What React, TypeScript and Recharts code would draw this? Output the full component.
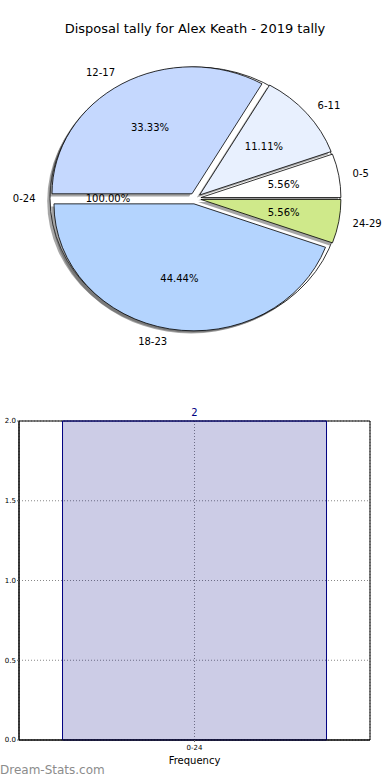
import React from "react";
import {
  PieChart,
  Pie,
  BarChart,
  Bar,
  XAxis,
  YAxis,
  CartesianGrid,
  LabelList,
  ReferenceArea,
} from "recharts";

// pie: disposals per band
const sliceNames = ["0-5", "6-11", "12-17", "18-23", "24-29"];
const sliceCounts = [1, 2, 6, 8, 1];
const totalNames = ["0-24"];
const totalCounts = [18];

// bar: frequency
const barCategories = ["0-24"];
const barValues = [2];
const yTicks = [0, 0.5, 1, 1.5, 2];

const SLICE_COLORS = ["#ffffff", "#e8f0fe", "#c5d8fe", "#b4d4fe", "#cfe98a"];

const sliceData = sliceNames.map((name, i) => ({ name, value: sliceCounts[i], fill: SLICE_COLORS[i] }));
const totalData = totalNames.map((name, i) => ({ name, value: totalCounts[i], fill: "#ffffff" }));
const barData = barCategories.map((name, i) => ({ name, value: barValues[i] }));

const FONT = "'DejaVu Sans', Verdana, sans-serif";
const SQUASH = 0.907; // pie is drawn a bit flattened
const RAD = Math.PI / 180;
const EXPLODE = 6;
const SHADOW: [number, number] = [-2.8, 2.6];
// chart offset is 5px (default margin)
const PIE_CX = 190;
const PIE_CY = 193.5;

function wedgePath(cx: number, cy: number, rx: number, ry: number, a0: number, a1: number) {
  const x0 = cx + rx * Math.cos(a0 * RAD);
  const y0 = cy - ry * Math.sin(a0 * RAD);
  const x1 = cx + rx * Math.cos(a1 * RAD);
  const y1 = cy - ry * Math.sin(a1 * RAD);
  const large = Math.abs(a1 - a0) > 180 ? 1 : 0;
  return `M${cx},${cy}L${x0},${y0}A${rx},${ry} 0 ${large} 0 ${x1},${y1}Z`;
}

const makeWedge = (explode: number, shadow: boolean, visible = true) => (props: any) => {
  const { cx, cy, startAngle, endAngle, outerRadius, fill } = props;
  if (!visible) return <g />;
  const mid = ((startAngle + endAngle) / 2) * RAD;
  let ox = cx + explode * Math.cos(mid);
  let oy = cy - explode * SQUASH * Math.sin(mid);
  if (shadow) {
    ox += SHADOW[0];
    oy += SHADOW[1];
  }
  const rx = outerRadius;
  const ry = outerRadius * SQUASH;
  const style = shadow
    ? { fill: "#4d4d4d", fillOpacity: 0.5, stroke: "none" }
    : { fill, stroke: "#000", strokeWidth: 0.8 };
  if (Math.abs(endAngle - startAngle) >= 359.9) {
    return <ellipse cx={ox} cy={oy} rx={rx} ry={ry} {...style} />;
  }
  return <path d={wedgePath(ox, oy, rx, ry, startAngle, endAngle)} {...style} />;
};

const makeLabel = (explode: number) => (p: any) => {
  const mid = p.midAngle * RAD;
  const ex = p.cx + explode * Math.cos(mid);
  const ey = p.cy - explode * SQUASH * Math.sin(mid);
  const rx = p.outerRadius;
  const ry = p.outerRadius * SQUASH;
  const lx = ex + 1.1 * rx * Math.cos(mid);
  const ly = ey - 1.1 * ry * Math.sin(mid);
  const px = ex + 0.6 * rx * Math.cos(mid);
  const py = ey - 0.6 * ry * Math.sin(mid);
  return (
    <g key={`lbl-${p.name}`}>
      <text x={lx} y={ly} textAnchor={Math.cos(mid) >= 0 ? "start" : "end"} dominantBaseline="central"
        fontSize={10} fontFamily={FONT} fill="#000">
        {p.name}
      </text>
      <text x={px} y={py} textAnchor="middle" dominantBaseline="central" fontSize={10} fontFamily={FONT} fill="#000">
        {(p.percent * 100).toFixed(2)}%
      </text>
    </g>
  );
};

const App = () => {
  return (
    <div style={{ position: "absolute", left: 0, top: 0, width: 390, height: 780, background: "#fff", fontFamily: FONT }}>
      <div style={{ position: "absolute", top: 21, left: 0, width: 390, textAlign: "center", fontSize: 13, color: "#000" }}>
        Disposal tally for Alex Keath - 2019 tally
      </div>
      <div style={{ position: "absolute", top: 0, left: 0 }}>
        <PieChart width={390} height={390}>
          <Pie data={totalData} dataKey="value" nameKey="name" cx={PIE_CX} cy={PIE_CY} outerRadius={145}
            startAngle={0} endAngle={360} isAnimationActive={false} shape={makeWedge(0, true)} label={false} />
          <Pie data={totalData} dataKey="value" nameKey="name" cx={PIE_CX} cy={PIE_CY} outerRadius={145}
            startAngle={0} endAngle={360} isAnimationActive={false} shape={makeWedge(0, false)} label={false} />
          <Pie data={sliceData} dataKey="value" nameKey="name" cx={PIE_CX} cy={PIE_CY} outerRadius={140}
            startAngle={0} endAngle={360} isAnimationActive={false} shape={makeWedge(EXPLODE, true)} label={false} />
          <Pie data={sliceData} dataKey="value" nameKey="name" cx={PIE_CX} cy={PIE_CY} outerRadius={140}
            startAngle={0} endAngle={360} isAnimationActive={false} shape={makeWedge(EXPLODE, false)}
            label={makeLabel(EXPLODE)} labelLine={false} />
          <Pie data={totalData} dataKey="value" nameKey="name" cx={PIE_CX} cy={PIE_CY} outerRadius={145}
            startAngle={0} endAngle={360} isAnimationActive={false} shape={makeWedge(0, false, false)}
            fill="none" stroke="none" label={makeLabel(0)} labelLine={false} />
        </PieChart>
      </div>
      <div style={{ position: "absolute", top: 390, left: 0 }}>
        <BarChart width={390} height={390} data={barData} margin={{ top: 31, right: 20, bottom: 16, left: 0 }}
          barCategoryGap="12.4%">
          <CartesianGrid stroke="#888" strokeDasharray="1 2" />
          <XAxis dataKey="name" height={24} tickSize={2} tickMargin={3} axisLine={{ stroke: "#000" }}
            tick={{ fontSize: 7, fill: "#000", fontFamily: FONT }}
            label={{ value: "Frequency", position: "insideBottom", offset: 0, fontSize: 10, fill: "#000", fontFamily: FONT }} />
          <YAxis domain={[0, 2]} ticks={yTicks} width={19} tickSize={2} tickMargin={1} axisLine={{ stroke: "#000" }}
            tickFormatter={(v: number) => v.toFixed(1)} tick={{ fontSize: 7, fill: "#000", fontFamily: FONT }} />
          <Bar dataKey="value" fill="#000080" fillOpacity={0.2} stroke="#000080" strokeWidth={1} isAnimationActive={false}>
            <LabelList dataKey="value" position="top" offset={5} fontSize={10} fill="#000080" fontFamily={FONT} />
          </Bar>
          <ReferenceArea y1={0} y2={2} fill="none" stroke="#000" strokeWidth={1} />
        </BarChart>
      </div>
      <div style={{ position: "absolute", top: 763, left: 0, fontSize: 12, color: "#8c8c8c" }}>
        Dream-Stats.com
      </div>
    </div>
  );
};

export default App;
